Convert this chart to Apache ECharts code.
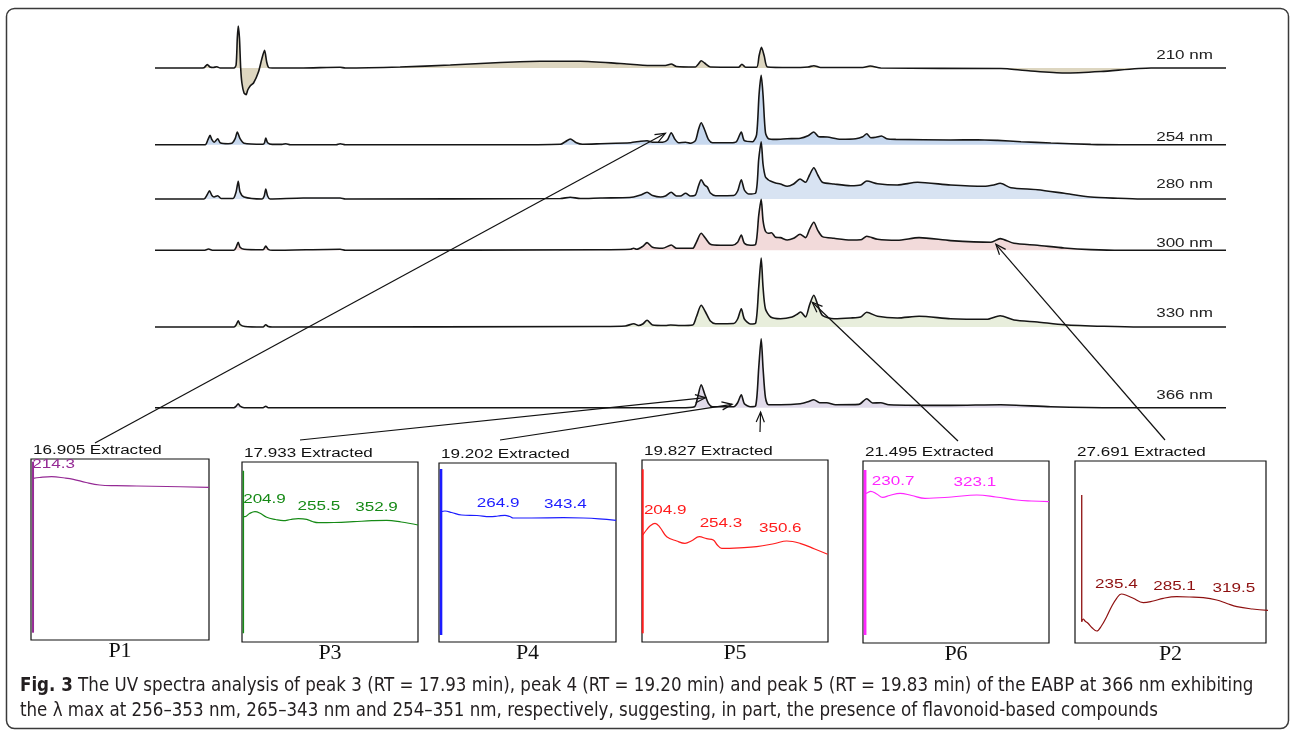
<!DOCTYPE html>
<html>
<head>
<meta charset="utf-8">
<title>Fig. 3 UV spectra</title>
<script src="https://cdn.jsdelivr.net/npm/echarts@6/dist/echarts.min.js"></script>
<style>
html, body { margin: 0; padding: 0; background: #fff; }
#main { width: 1292px; height: 732px; }
</style>
</head>
<body>
<div id="main"></div>
<script>
// chromatograms: [retention time (min), signal]
var traceNames = ['210 nm', '254 nm', '280 nm', '300 nm', '330 nm', '366 nm'];

var trace210 = [[0,0],[1.47,0],[1.60,0.3],[1.71,3.4],[1.80,1],[1.90,0.5],[2.02,1.2],[2.13,0],[2.58,0],[2.65,3],[2.69,30],[2.72,42],[2.76,30],[2.80,0],[2.84,-15],[2.91,-25],[2.98,-26.6],[3.03,-22],[3.11,-18],[3.22,-15],[3.38,-4],[3.49,9],[3.58,17.7],[3.65,6],[3.71,0.5],[3.83,0],[4.74,0],[6.05,0.8],[6.22,0],[8.01,1],[9.65,3],[11.29,5.5],[12.59,6.7],[13.90,6.7],[15.21,4.5],[16.19,2.5],[16.68,2.5],[16.87,4],[17.04,1.5],[17.66,1],[17.76,4],[17.85,7.3],[17.96,5],[18.15,1],[19.07,0.8],[19.18,3.7],[19.30,0.8],[19.66,0.8],[19.74,12],[19.82,20.7],[19.91,12],[20.02,1],[20.77,0.5],[21.34,1],[21.53,2.3],[21.75,0.5],[23.13,0.5],[23.37,2],[23.72,0],[27.64,-0.5],[27.86,-0.8],[28.62,-3],[29.71,-5],[30.91,-3.5],[32.55,0],[35,0]];

var trace254 = [[0,0],[1.64,0],[1.73,5],[1.80,9.3],[1.86,5],[1.93,2.5],[2.05,6],[2.13,2],[2.39,1],[2.52,1.5],[2.62,6],[2.69,12.7],[2.78,6],[2.91,1.5],[3.53,0.5],[3.58,2],[3.62,6.7],[3.68,2],[3.83,0.3],[4.15,0.3],[4.28,1],[4.42,0],[5.92,0],[6.05,1],[6.22,0],[11.29,0],[13.25,0.5],[13.41,3],[13.57,5.7],[13.77,2],[13.97,0.5],[14.56,1],[15.54,2],[15.87,3.5],[16.08,4],[16.26,2.5],[16.59,2.5],[16.75,5],[16.87,12],[16.98,6],[17.11,2],[17.34,2.5],[17.50,1.5],[17.66,4],[17.76,15],[17.85,22],[17.96,15],[18.09,5],[18.22,2],[18.81,2],[19.00,3],[19.16,12.6],[19.26,4],[19.53,3],[19.66,10],[19.74,50],[19.81,69.3],[19.87,50],[19.95,12],[20.05,6],[20.28,5.3],[20.66,6],[21.09,6.5],[21.34,9],[21.53,12.7],[21.69,8],[21.97,7.7],[22.41,5.5],[22.90,6],[23.13,8],[23.26,11],[23.39,7],[23.56,7.5],[23.74,8.7],[23.91,6],[24.21,5.3],[26.00,4.7],[26.88,5],[27.53,4.3],[28.30,3],[29.28,1.7],[30.58,0.3],[31.57,0],[35,0]];

var trace280 = [[0,0],[1.60,0],[1.70,4],[1.78,8.3],[1.86,3.5],[1.93,2],[2.05,3.3],[2.16,0.5],[2.55,0.5],[2.65,7],[2.72,17.7],[2.78,7],[2.91,2],[3.50,0],[3.57,3],[3.62,10],[3.68,3],[3.76,0],[4.84,1],[6.05,1],[6.22,0],[13.25,0.5],[13.57,1.7],[13.90,0.5],[14.56,1],[15.51,1.5],[15.64,2],[15.87,4],[16.08,6.7],[16.26,3.5],[16.52,2],[16.68,3],[16.87,6.7],[17.04,3],[17.17,3],[17.34,5.7],[17.50,3],[17.66,4],[17.76,13],[17.85,19.3],[17.96,14],[18.05,12],[18.15,6],[18.32,3.3],[18.91,3.5],[19.04,8],[19.16,19.3],[19.26,9],[19.40,5],[19.63,6],[19.73,40],[19.81,57.3],[19.87,35],[19.95,22],[20.05,19],[20.11,18],[20.28,16],[20.44,15],[20.66,12.7],[20.87,15],[21.08,20],[21.26,16.7],[21.39,24],[21.53,31.3],[21.66,24],[21.81,16.7],[22.19,15],[22.73,13.3],[23.06,14],[23.26,18],[23.61,15.3],[24.26,14],[24.92,16.7],[26.00,14],[27.09,12.7],[27.41,14],[27.62,15.7],[27.97,11.3],[28.84,9.3],[29.71,5.7],[30.58,2],[31.46,0.7],[32.22,0],[35,0]];

var trace300 = [[0,0],[1.60,0],[1.75,1.3],[1.90,0],[2.58,0],[2.65,3],[2.72,8],[2.78,3],[2.91,1],[3.53,0.5],[3.62,4.3],[3.70,1],[3.83,0],[6.05,1],[6.22,0],[14.56,0.5],[15.54,1],[15.64,2],[15.74,1],[15.94,4],[16.08,7.7],[16.26,3],[16.59,2],[16.87,5.3],[17.04,2],[17.57,2],[17.69,8],[17.85,17],[17.99,12],[18.15,6],[18.48,5],[18.87,5],[19.04,8],[19.16,15.3],[19.26,7],[19.46,5],[19.63,6],[19.73,35],[19.81,51],[19.87,30],[19.95,19],[20.05,17],[20.15,17.5],[20.28,13],[20.44,12.7],[20.66,10.3],[20.87,12],[21.08,16],[21.26,12.7],[21.39,21],[21.53,28],[21.66,20],[21.81,13.7],[22.19,12],[22.73,10.3],[23.06,10.5],[23.26,14],[23.61,11],[24.26,10],[24.97,12.7],[26.00,9.7],[27.32,8],[27.62,11.7],[28.07,7],[28.84,5],[29.71,2.3],[30.58,0.7],[31.57,0],[35,0]];

var trace330 = [[0,0],[2.58,0],[2.65,2],[2.72,6.3],[2.78,2.5],[2.94,0.5],[3.53,0],[3.62,2.3],[3.70,0.5],[3.83,0],[14.56,0.5],[15.37,1],[15.65,3.3],[15.80,1.5],[15.94,3],[16.08,6.7],[16.26,2],[16.68,1.5],[16.85,2],[17.17,1.5],[17.57,2],[17.69,10],[17.85,21.7],[17.99,15],[18.15,6],[18.32,3.3],[18.91,3.5],[19.04,8],[19.16,18.3],[19.26,8],[19.46,3],[19.63,4],[19.73,40],[19.81,69],[19.87,40],[19.95,18],[20.12,10],[20.44,8.3],[20.82,10],[21.00,13],[21.10,15],[21.26,10],[21.39,22],[21.53,31.7],[21.66,22],[21.81,11.7],[22.19,8.3],[22.73,9],[23.06,10],[23.26,14.7],[23.61,10.7],[24.26,9],[24.97,10.7],[26.00,8.3],[27.18,7.7],[27.62,11.3],[28.07,7],[28.84,5],[29.71,2.3],[31.01,0.7],[32.22,0],[35,0]];

var trace366 = [[0,0],[2.58,0],[2.65,1.5],[2.72,4],[2.78,1.5],[2.91,0],[3.53,0],[3.62,1.5],[3.70,0],[17.17,0],[17.63,1],[17.73,10],[17.85,23],[17.96,14],[18.09,4],[18.22,1],[18.91,1],[19.04,5],[19.16,13],[19.26,4],[19.46,1],[19.63,2],[19.73,40],[19.81,69],[19.87,40],[19.95,10],[20.05,3],[20.44,3],[21.09,4],[21.34,6],[21.53,8],[21.72,5],[21.95,5],[22.24,3],[23.00,3.3],[23.26,9],[23.45,4.7],[23.72,5],[23.98,3],[26.00,2.3],[27.64,3],[29.28,1],[31.44,0],[35,0]];

// UV spectra: [wavelength (nm), absorbance]
var panelNames = ['P1', 'P3', 'P4', 'P5', 'P6', 'P2'];
var panelTimes = ['16.905', '17.933', '19.202', '19.827', '21.495', '27.691'];

var spikeP1 = [[192.4,7.3],[192.4,178.3]];
var spikeP3 = [[191.6,8.7],[191.6,171.3]];
var spikeP4 = [[192.4,7],[192.4,173]];
var spikeP5 = [[190.8,8.7],[190.8,172.7]];
var spikeP6 = [[192.3,8],[192.3,173]];
var spikeP2 = [[197.4,21.3],[197.4,148]];

var specP1 = [[192.6,161.7],[200,162.5],[214.3,163.3],[230,162],[240,160.7],[255,157.5],[271,155],[290,154.3],[315,154],[350,153.5],[400,152.7]];
var specP3 = [[191.7,125.3],[193.6,125.3],[199,128.5],[205.5,130.3],[211,129],[219.5,124.7],[230,122.5],[239.3,121.3],[248,122.5],[257.2,123.3],[267.2,122.7],[274,120.5],[281,119.3],[300,119.5],[322.8,120.3],[345,121.3],[362.7,121.7],[380,120],[400,117]];
var specP4 = [[192.5,130.3],[193.2,130.3],[197.1,131],[205,129.5],[216.9,127],[235,126.5],[250.5,125.3],[260,126],[268.3,126.7],[274,125.5],[278.1,124],[300,124],[337.4,124.3],[361.2,124],[380,123.2],[400,121.7]];
var specP5 = [[190.9,107],[191.5,107],[195,112],[199,116],[204.7,118.7],[210.3,114.7],[217.9,105.3],[229.2,101],[238.5,98.7],[246.1,101.3],[254.7,105.3],[263,103.3],[270.5,102],[275,97],[280,93.7],[300,94.2],[319.5,95.3],[340,98.5],[353.4,101],[368.4,98.7],[385,93],[399.6,87.7]];
var specP6 = [[192.4,149.7],[193.4,149.7],[198.7,151.7],[205.5,149],[212.2,145.7],[220,147.5],[231.8,149.7],[245,147.5],[260,144.7],[290,146],[318.4,148],[340,146],[363.6,143],[380,142],[400,141.3]];
var specP2 = [[197.4,21.3],[199,24],[201,22],[204,20],[209,15],[213.9,12],[219,17],[224.8,26.3],[230,36],[235.8,44.7],[241,49],[247,47.5],[254,44.7],[265,40.3],[276,42],[287,44.7],[301.8,46.3],[316,46],[331,45.3],[345.8,43],[357,39.5],[368,36.3],[385,34],[406,32.3]];

var peaksP1 = [214.3];
var peaksP3 = [204.9, 255.5, 352.9];
var peaksP4 = [264.9, 343.4];
var peaksP5 = [204.9, 254.3, 350.6];
var peaksP6 = [230.7, 323.1];
var peaksP2 = [235.4, 285.1, 319.5];

var spikes = [spikeP1, spikeP3, spikeP4, spikeP5, spikeP6, spikeP2];
var spectra = [specP1, specP3, specP4, specP5, specP6, specP2];
var peaks = [peaksP1, peaksP3, peaksP4, peaksP5, peaksP6, peaksP2];

var captionLine1 = 'The UV spectra analysis of peak 3 (RT = 17.93 min), peak 4 (RT = 19.20 min) and peak 5 (RT = 19.83 min) of the EABP at 366 nm exhibiting';
var captionLine2 = 'the \u03bb max at 256\u2013353 nm, 265\u2013343 nm and 254\u2013351 nm, respectively, suggesting, in part, the presence of flavonoid-based compounds';

// layout
var traces = [trace210, trace254, trace280, trace300, trace330, trace366];
var traceFill = ['#ddd6c0', '#c7d8ee', '#d8e3f2', '#f2dada', '#e8eedc', '#e1dbea'];
var baselines = [68, 144.7, 199, 250.3, 327, 407.7];
var traceLabelY = [55.7, 137.7, 184.3, 243.3, 313.3, 395.7];
var chromLeft = 155, chromWidth = 1071;

var panelBoxes = [[31, 459, 178, 181], [242, 462, 176, 180], [439, 463, 177, 179], [642, 460, 186, 182], [863, 461, 186, 182], [1075, 461, 191, 182]];
var panelColors = ['#952a95', '#168a16', '#1c1cff', '#ff1c1c', '#ff26ff', '#8e1010'];
var spikeWidth = [2, 1.5, 2.6, 2, 2.8, 1.3];
var labelLevel = [[175], [142, 135.3, 134], [138.7, 137], [131.3, 118, 113.7], [161.3, 160.3], [58, 56.3, 54.7]];
var labelShift = [[2], [10, 22, -2], [-4, -3], [10, 22, -4], [-6, -6], [0, 13, 41]];

// arrow tips in chromatogram coordinates [trace, min, signal]; tails in page pixels
var arrowTips = [[1, 16.68, 11.4], [5, 17.99, 10], [5, 18.86, 3.4], [5, 19.79, -4.3], [4, 21.48, 24.7], [3, 27.48, 6]];
var arrowTails = [[95, 443], [300, 440], [500, 440], [760, 432], [958, 441], [1165, 440]];

var myChart = echarts.init(document.getElementById('main'));

var grids = [], xAxes = [], yAxes = [], series = [];

traces.forEach(function (t, i) {
    // 1 signal unit = 1 px; tall peaks are allowed to leave their grid
    grids.push({ left: chromLeft, width: chromWidth, top: baselines[i] - 60, height: 90 });
    xAxes.push({ gridIndex: i, type: 'value', min: 0, max: 35, show: false });
    yAxes.push({ gridIndex: i, type: 'value', min: -30, max: 60, show: false });
    series.push({
        name: traceNames[i],
        type: 'line',
        xAxisIndex: i,
        yAxisIndex: i,
        data: t,
        symbol: 'none',
        smooth: 0.25,
        clip: false,
        silent: true,
        lineStyle: { color: '#161616', width: 1.6 },
        areaStyle: { color: traceFill[i], opacity: 1 }
    });
});

panelBoxes.forEach(function (box, k) {
    var g = 6 + k;
    grids.push({ left: box[0], top: box[1], width: box[2], height: box[3], show: true, borderColor: '#111', borderWidth: 1.2, backgroundColor: 'rgba(0,0,0,0)' });
    xAxes.push({ gridIndex: g, type: 'value', min: 190, max: 400, show: false });
    yAxes.push({ gridIndex: g, type: 'value', min: 0, max: box[3], show: false });
    series.push({
        type: 'line', xAxisIndex: g, yAxisIndex: g, data: spikes[k],
        symbol: 'none', silent: true,
        lineStyle: { color: panelColors[k], width: spikeWidth[k] }
    });
    series.push({
        type: 'line', xAxisIndex: g, yAxisIndex: g, data: spectra[k],
        symbol: 'none', smooth: 0.4, silent: true, clip: false,
        lineStyle: { color: panelColors[k], width: 1.2 }
    });
});

myChart.setOption({
    animation: false,
    backgroundColor: '#fff',
    grid: grids,
    xAxis: xAxes,
    yAxis: yAxes,
    series: series
});

// wide sans labels like the instrument print-out
function wideText(x, y, str, color, align) {
    return {
        type: 'text', x: x, y: y, scaleX: 1.42, silent: true,
        style: {
            text: str, fill: color, font: '12px "Liberation Sans", Arial, sans-serif',
            align: align, textAlign: align, verticalAlign: 'middle', textVerticalAlign: 'middle'
        }
    };
}

var elements = [];

elements.push({
    type: 'rect', silent: true,
    shape: { x: 6.5, y: 8.5, width: 1282, height: 720, r: 8 },
    style: { fill: 'none', stroke: '#3a3a3a', lineWidth: 1.5 }
});

traceNames.forEach(function (n, i) {
    elements.push(wideText(1213, traceLabelY[i], n, '#222', 'right'));
});

panelBoxes.forEach(function (box, k) {
    elements.push(wideText(box[0] + 2, box[1] - 8.5, panelTimes[k] + ' Extracted', '#111', 'left'));
    elements.push({
        type: 'text', x: box[0] + box[2] / 2, y: box[1] + box[3] + 11, silent: true,
        style: {
            text: panelNames[k], fill: '#111', font: '22px "Liberation Serif", "Times New Roman", serif',
            align: 'center', textAlign: 'center', verticalAlign: 'middle', textVerticalAlign: 'middle'
        }
    });
    peaks[k].forEach(function (v, j) {
        var p = myChart.convertToPixel({ gridIndex: 6 + k }, [v, labelLevel[k][j]]);
        elements.push(wideText(p[0] + labelShift[k][j], p[1], v.toFixed(1), panelColors[k], 'center'));
    });
});

arrowTips.forEach(function (tip, a) {
    var end = myChart.convertToPixel({ gridIndex: tip[0] }, [tip[1], tip[2]]);
    var start = arrowTails[a];
    var ang = Math.atan2(end[1] - start[1], end[0] - start[0]);
    var len = 11, spread = 0.38;
    var h1 = [end[0] - len * Math.cos(ang - spread), end[1] - len * Math.sin(ang - spread)];
    var h2 = [end[0] - len * Math.cos(ang + spread), end[1] - len * Math.sin(ang + spread)];
    elements.push({
        type: 'line', silent: true, z: 50,
        shape: { x1: start[0], y1: start[1], x2: end[0], y2: end[1] },
        style: { stroke: '#111', lineWidth: 1.2 }
    });
    elements.push({
        type: 'polyline', silent: true, z: 50,
        shape: { points: [h1, end, h2] },
        style: { stroke: '#111', lineWidth: 1.2, fill: null }
    });
});

// caption: pick a condensed face if one is installed, then fit the first line
var ctx = document.createElement('canvas').getContext('2d');
function hasFont(name) {
    var probe = 'mmmmwwwlliiBB@#0';
    ctx.font = '40px monospace';
    var a = ctx.measureText(probe).width;
    ctx.font = '40px "' + name + '", monospace';
    return ctx.measureText(probe).width !== a;
}
var capFamily = ['Liberation Sans Narrow', 'DejaVu Sans Condensed', 'Liberation Sans'].filter(hasFont)[0] || 'sans-serif';
ctx.font = 'bold 20px "' + capFamily + '"';
var wBold = ctx.measureText('Fig. 3').width;
ctx.font = '20px "' + capFamily + '"';
var wRest = ctx.measureText(' ' + captionLine1).width;
var capSize = Math.min(22, 20 * 1234 / (wBold + wRest));

var capStyle = { fontSize: capSize, fontFamily: capFamily, fill: '#231f20' };
elements.push({
    type: 'text', x: 20, y: 686, silent: true,
    style: {
        text: '{b|Fig. 3}{n| ' + captionLine1 + '}',
        fontSize: capSize, fontFamily: capFamily, fill: '#231f20',
        align: 'left', textAlign: 'left', verticalAlign: 'middle', textVerticalAlign: 'middle',
        rich: {
            b: { fontSize: capSize, fontFamily: capFamily, fontWeight: 'bold', fill: '#231f20' },
            n: capStyle
        }
    }
});
elements.push({
    type: 'text', x: 20, y: 711, silent: true,
    style: {
        text: captionLine2, fontSize: capSize, fontFamily: capFamily, fill: '#231f20',
        align: 'left', textAlign: 'left', verticalAlign: 'middle', textVerticalAlign: 'middle'
    }
});

myChart.setOption({ graphic: { elements: elements } });
</script>
</body>
</html>
